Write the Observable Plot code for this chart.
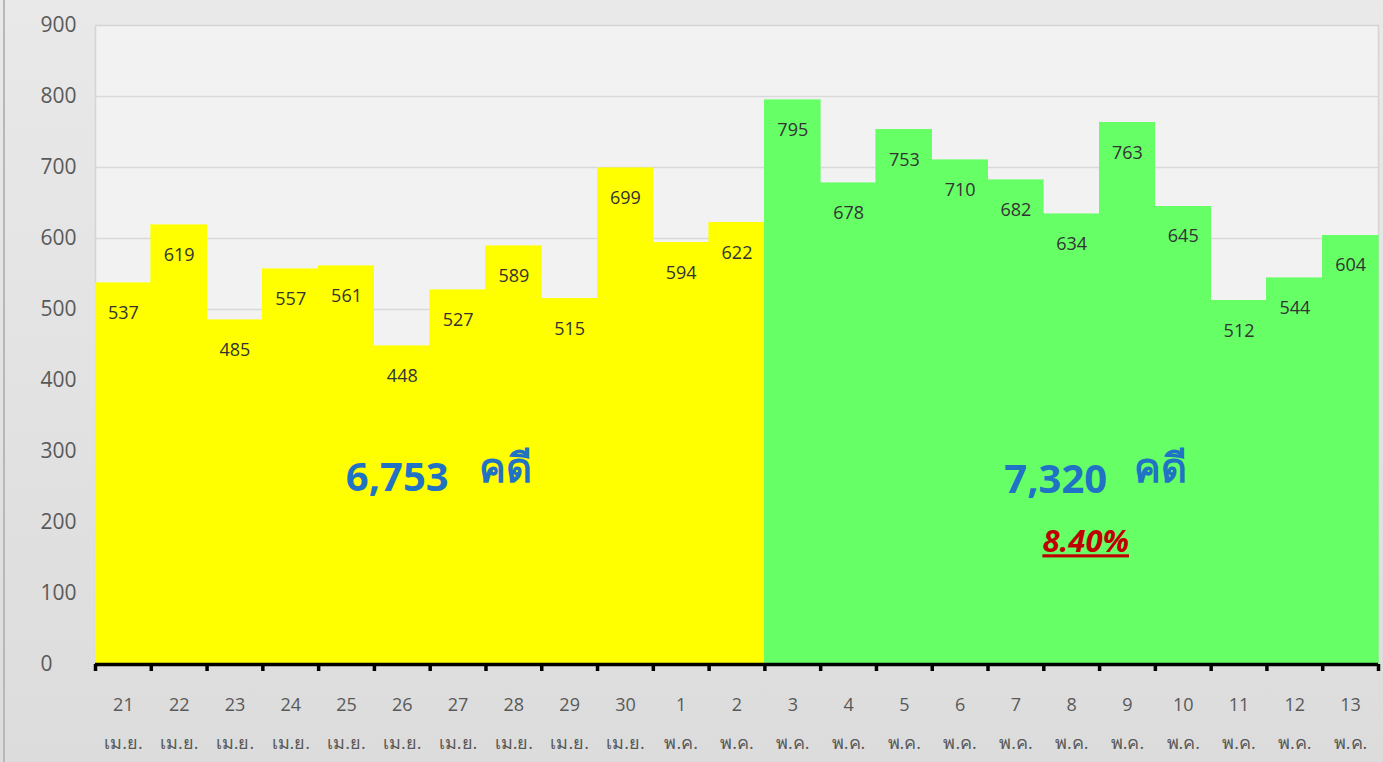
<!DOCTYPE html>
<html>
<head>
<meta charset="utf-8">
<script src="https://cdn.jsdelivr.net/npm/d3@7"></script>
<script src="https://cdn.jsdelivr.net/npm/@observablehq/plot@0.6"></script>
<style>
  html, body { margin: 0; padding: 0; }
  body {
    width: 1383px; height: 762px; overflow: hidden;
    background: linear-gradient(180deg, #e9e9e9 0%, #dcdcdc 100%);
    font-family: "Open Sans", "Noto Sans", sans-serif;
  }
  #chart { position: absolute; left: 0; top: 0; }
  #border { position: absolute; left: 3px; top: 0; width: 2px; height: 762px; background: #b8b8b8; }
</style>
</head>
<body>
<div id="border"></div>
<div id="chart"></div>
<script>
const days = ["21","22","23","24","25","26","27","28","29","30","1","2","3","4","5","6","7","8","9","10","11","12","13"];
const months = ["เม.ย.","เม.ย.","เม.ย.","เม.ย.","เม.ย.","เม.ย.","เม.ย.","เม.ย.","เม.ย.","เม.ย.","พ.ค.","พ.ค.","พ.ค.","พ.ค.","พ.ค.","พ.ค.","พ.ค.","พ.ค.","พ.ค.","พ.ค.","พ.ค.","พ.ค.","พ.ค."];
const cases = [537,619,485,557,561,448,527,589,515,699,594,622,795,678,753,710,682,634,763,645,512,544,604];
const period = ["before","before","before","before","before","before","before","before","before","before","before","before","after","after","after","after","after","after","after","after","after","after","after"];
const yTicks = [0,100,200,300,400,500,600,700,800,900];
const totals = ["6,753", "7,320"];
const unitWord = "คดี";
const change = "8.40%";

const data = cases.map((v, i) => ({i, v, day: days[i], month: months[i], period: period[i]}));
const groupStart = [0, period.indexOf("after")];
const groupEnd = [period.indexOf("after"), cases.length];
const groupMid = groupStart.map((s, k) => (s + groupEnd[k]) / 2);

const chart = Plot.plot({
  width: 1383,
  height: 762,
  marginLeft: 95,
  marginRight: 5,
  marginTop: 25,
  marginBottom: 98,
  style: {background: "transparent", fontFamily: "'Open Sans', 'Noto Sans', sans-serif"},
  x: {type: "linear", domain: [0, cases.length], axis: null, label: null},
  y: {domain: [0, 900], axis: null, label: null},
  color: {domain: ["before", "after"], range: ["#ffff00", "#66ff66"]},
  marks: [
    Plot.frame({fill: "#f2f2f2", stroke: "#d4d4d4", strokeWidth: 1.5}),
    Plot.ruleY(yTicks.filter(d => d > 0 && d < 900), {stroke: "#d9d9d9", strokeWidth: 1.5}),
    Plot.rectY(data, {x1: "i", x2: d => d.i + 1, y1: 0, y2: "v", fill: "period", stroke: "period", strokeWidth: 0.6, inset: 0, shapeRendering: "crispEdges"}),
    Plot.text(data, {x: d => d.i + 0.5, y: "v", text: d => String(d.v), dy: 30, fontSize: 18, fill: "#333333"}),
    Plot.ruleY([0], {stroke: "#000", strokeWidth: 3.5}),
    Plot.axisX({ticks: d3.range(0, cases.length + 1), tickSize: 7, tickFormat: () => "", stroke: "#000", strokeWidth: 3.5, label: null}),
    Plot.text(data, {x: d => d.i + 0.5, text: "day", frameAnchor: "bottom", dy: 46, fontSize: 18, fill: "#595959"}),
    Plot.text(data, {x: d => d.i + 0.5, text: "month", frameAnchor: "bottom", dy: 84, fontSize: 18, fill: "#595959"}),
    Plot.text(yTicks, {y: d => d, text: d => String(d), frameAnchor: "left", dx: -55, fontSize: 21, fill: "#595959"}),
    // totals annotations
    Plot.text([0], {x: groupMid[0], y: 262, text: [totals[0]], dx: -33, fontSize: 40, fontWeight: "bold", fill: "#1f72c4"}),
    Plot.text([0], {x: groupMid[0], y: 275, text: [unitWord], dx: 75, fontSize: 40, fontWeight: "bold", fill: "#1f72c4"}),
    Plot.text([0], {x: groupMid[1], y: 260, text: [totals[1]], dx: -16, fontSize: 40, fontWeight: "bold", fill: "#1f72c4"}),
    Plot.text([0], {x: groupMid[1], y: 275, text: [unitWord], dx: 89, fontSize: 40, fontWeight: "bold", fill: "#1f72c4"}),
    Plot.text([0], {x: groupMid[1], y: 172, text: [change], dx: 14, fontSize: 31, fontWeight: "bold", fontStyle: "italic", fill: "#c00000", className: "pct"})
  ]
});
d3.select(chart).selectAll(".pct text").attr("text-decoration", "underline").style("text-decoration", "underline");
document.getElementById("chart").appendChild(chart);
</script>
</body>
</html>
